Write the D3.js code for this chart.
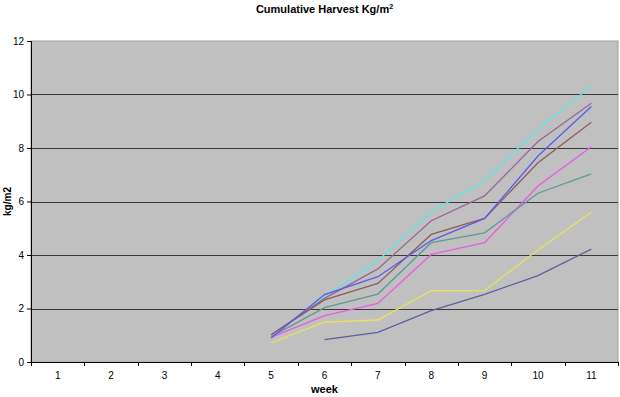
<!DOCTYPE html>
<html>
<head>
<meta charset="utf-8">
<script src="https://cdn.jsdelivr.net/npm/d3@7"></script>
<style>
  body { margin: 0; background: #fff; }
  text { font-family: "Liberation Sans", Arial, sans-serif; }
</style>
</head>
<body>
<div id="chart"></div>
<script>
// weeks on the x axis
var weeks = ["1", "2", "3", "4", "5", "6", "7", "8", "9", "10", "11"];
var yTicks = [0, 2, 4, 6, 8, 10, 12];

// cumulative harvest per series, from week 5 (or 6) to week 11; null = no data
var navy    = [null, null, null, null, null, 0.84, 1.11, 1.92, 2.53, 3.23, 4.22];
var magenta = [null, null, null, null, 0.92, 1.73, 2.19, 4.02, 4.46, 6.58, 8.05];
var yellow  = [null, null, null, null, 0.72, 1.49, 1.57, 2.67, 2.67, 4.19, 5.60];
var cyan    = [null, null, null, null, 0.95, 2.44, 3.79, 5.62, 6.78, 8.70, 10.32];
var purple  = [null, null, null, null, 1.02, 2.38, 3.48, 5.28, 6.21, 8.24, 9.67];
var brown   = [null, null, null, null, 1.02, 2.32, 2.94, 4.77, 5.37, 7.45, 8.96];
var teal    = [null, null, null, null, 0.95, 2.03, 2.54, 4.46, 4.83, 6.31, 7.03];
var blue    = [null, null, null, null, 0.90, 2.52, 3.19, 4.54, 5.37, 7.70, 9.55];

var series = [
  { name: "navy", values: navy, color: "#5f5f9c" },
  { name: "magenta", values: magenta, color: "#ea5ae8" },
  { name: "yellow", values: yellow, color: "#e6e35a" },
  { name: "cyan", values: cyan, color: "#5ee6e6" },
  { name: "purple", values: purple, color: "#966896" },
  { name: "brown", values: brown, color: "#8f5c5c" },
  { name: "teal", values: teal, color: "#5f9898" },
  { name: "blue", values: blue, color: "#5a5aea" }
];

var width = 620, height = 397;
var margin = { top: 41, right: 2, bottom: 35, left: 31 };
var w = width - margin.left - margin.right;
var h = height - margin.top - margin.bottom;

var svg = d3.select("#chart").append("svg")
  .attr("width", width)
  .attr("height", height);

var g = svg.append("g")
  .attr("transform", "translate(" + margin.left + "," + margin.top + ")");

var xScale = d3.scaleBand().domain(weeks).range([0, w]);
var yScale = d3.scaleLinear().domain([0, 12]).range([h, 0]);

// plot area
g.append("rect")
  .attr("width", w)
  .attr("height", h)
  .attr("fill", "#c0c0c0")
  .attr("stroke", "#a0a0a0");

// gridlines
g.selectAll(".grid")
  .data(yTicks.filter(function(d) { return d > 0 && d < 12; }))
  .enter().append("line")
  .attr("class", "grid")
  .attr("x1", 0)
  .attr("x2", w)
  .attr("y1", function(d) { return Math.round(yScale(d)) + 0.5; })
  .attr("y2", function(d) { return Math.round(yScale(d)) + 0.5; })
  .attr("stroke", "#3a3a3a");

// axes
var yAxis = d3.axisLeft(yScale).tickValues(yTicks).tickSize(4).tickPadding(3);
var gy = g.append("g").attr("class", "y axis").call(yAxis);
gy.selectAll("text").style("font-size", "10px").attr("fill", "#000");

var xAxis = d3.axisBottom(xScale).tickSize(0).tickPadding(10);
var gx = g.append("g")
  .attr("class", "x axis")
  .attr("transform", "translate(0," + h + ")")
  .call(xAxis);
gx.selectAll("text").style("font-size", "10px").attr("fill", "#000");

// tick marks between categories
gx.selectAll(".sep")
  .data(weeks.concat(["end"]))
  .enter().append("line")
  .attr("class", "sep")
  .attr("x1", function(d, i) { return Math.round(i * xScale.step()) + 0.5; })
  .attr("x2", function(d, i) { return Math.round(i * xScale.step()) + 0.5; })
  .attr("y1", 0)
  .attr("y2", 4)
  .attr("stroke", "#000");

svg.selectAll(".domain").attr("stroke", "#000");

// lines
var line = d3.line()
  .defined(function(d) { return d != null; })
  .x(function(d, i) { return xScale(weeks[i]) + xScale.bandwidth() / 2; })
  .y(function(d) { return yScale(d); });

g.selectAll(".series")
  .data(series)
  .enter().append("path")
  .attr("class", "series")
  .attr("fill", "none")
  .attr("stroke-width", 1.3)
  .attr("stroke", function(d) { return d.color; })
  .attr("d", function(d) { return line(d.values); });

// titles
var title = svg.append("text")
  .attr("x", margin.left + w / 2)
  .attr("y", 13)
  .attr("text-anchor", "middle")
  .style("font-size", "11px")
  .style("font-weight", "bold");
title.append("tspan").text("Cumulative Harvest Kg/m");
title.append("tspan").attr("dy", -4).style("font-size", "7px").text("2");

svg.append("text")
  .attr("x", margin.left + w / 2)
  .attr("y", 393)
  .attr("text-anchor", "middle")
  .style("font-size", "11px")
  .style("font-weight", "bold")
  .text("week");

svg.append("text")
  .attr("transform", "translate(11," + (margin.top + h / 2) + ") rotate(-90)")
  .attr("text-anchor", "middle")
  .style("font-size", "10px")
  .style("font-weight", "bold")
  .text("kg/m2");
</script>
</body>
</html>
